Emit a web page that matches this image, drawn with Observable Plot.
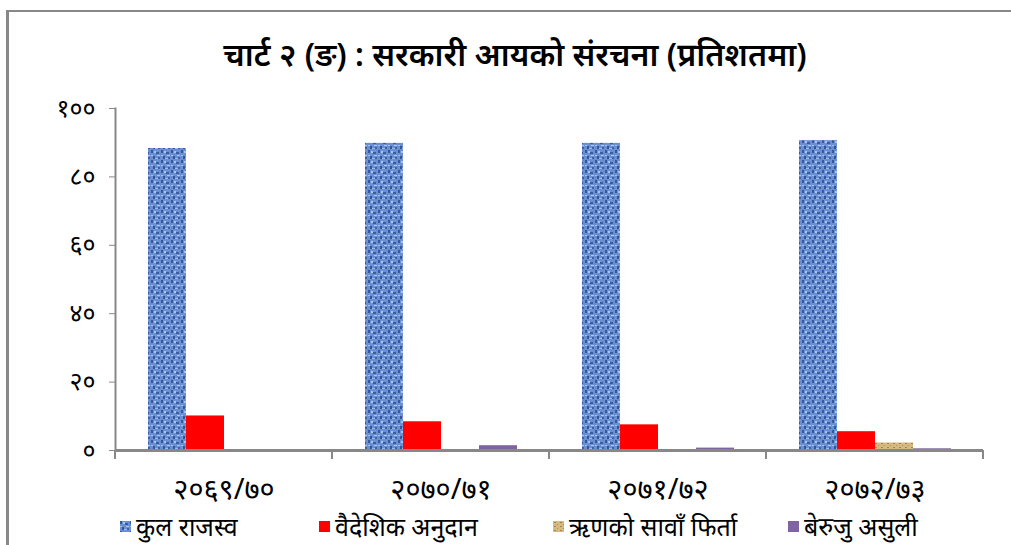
<!DOCTYPE html>
<html>
<head>
<meta charset="utf-8">
<script src="https://cdn.jsdelivr.net/npm/d3@7"></script>
<script src="https://cdn.jsdelivr.net/npm/@observablehq/plot@0.6"></script>
<style>
  html, body { margin: 0; padding: 0; background: #fff; }
  body { width: 1011px; height: 545px; position: relative; overflow: hidden; font-family: "Noto Sans", "Lato", sans-serif; }
  #frame { position: absolute; left: 6px; top: 10px; width: 1010px; height: 540px; border-left: 3px solid #888; border-top: 2px solid #888; }
  #title { position: absolute; left: 0; width: 1030px; top: 32px; text-align: center; font-size: 32px; font-weight: 600; color: #000; }
  #chart { position: absolute; left: 0; top: 90px; }
  #legend { position: absolute; top: 509px; left: 0; width: 1011px; height: 36px; }
  .item { position: absolute; display: flex; align-items: center; font-size: 25px; color: #000; white-space: nowrap; }
  .sw { width: 11px; height: 11px; margin-right: 5px; }
</style>
</head>
<body>
<svg width="0" height="0" style="position:absolute">
  <defs>
    <pattern id="denim" patternUnits="userSpaceOnUse" width="10" height="10">
      <rect width="10" height="10" fill="#6b8fd3"/>
      <rect x="0" y="0" width="2" height="3" fill="#36589c"/>
      <rect x="5" y="2" width="3" height="2" fill="#3a5da2"/>
      <rect x="2" y="6" width="2" height="3" fill="#34559a"/>
      <rect x="7" y="7" width="2" height="2" fill="#3d60a6"/>
      <rect x="3" y="1" width="2" height="2" fill="#a8c4f0"/>
      <rect x="0" y="5" width="2" height="1" fill="#a3bfee"/>
      <rect x="6" y="5" width="3" height="1" fill="#aac6f2"/>
      <rect x="4" y="8" width="3" height="1" fill="#9fbbea"/>
    </pattern>
    <pattern id="tan" patternUnits="userSpaceOnUse" width="6" height="4">
      <rect width="6" height="4" fill="#d6b980"/>
      <rect x="1" y="1" width="2" height="1" fill="#a5844a"/>
      <rect x="4" y="3" width="1" height="1" fill="#b0915a"/>
    </pattern>
  </defs>
</svg>
<div id="frame"></div>
<div id="title">चार्ट २ (ङ) : सरकारी आयको संरचना (प्रतिशतमा)</div>
<div id="chart"></div>
<div id="legend"></div>
<script>
// ---- data ----
const years = ["२०६९/७०", "२०७०/७१", "२०७१/७२", "२०७२/७३"];
const series = ["कुल राजस्व", "वैदेशिक अनुदान", "ऋणको सावाँ फिर्ता", "बेरुजु असुली"];
const totalRevenue = [88.3, 89.8, 89.8, 90.6];
const foreignGrants = [10.1, 8.4, 7.5, 5.5];
const loanRecovery = [0, 0, 0, 2.2];
const arrearsRecovery = [0, 1.4, 0.7, 0.5];
const yTicks = [0, 20, 40, 60, 80, 100];
const yTickLabels = ["०", "२०", "४०", "६०", "८०", "१००"];
const seriesColors = ["url(#denim)", "#ff0000", "url(#tan)", "#8064a2"];

const valuesBySeries = [totalRevenue, foreignGrants, loanRecovery, arrearsRecovery];
const data = [];
years.forEach((yr, i) => {
  series.forEach((s, j) => data.push({year: yr, series: s, value: valuesBySeries[j][i]}));
});

const chart = Plot.plot({
  width: 1011,
  height: 428,
  marginTop: 18,
  marginLeft: 114,
  marginRight: 27,
  marginBottom: 68,
  style: {fontFamily: "'Noto Sans', sans-serif", background: "transparent", overflow: "visible"},
  fx: {domain: years, padding: 0, label: null},
  x: {domain: series, paddingInner: 0, paddingOuter: 0.79, axis: null},
  y: {domain: [0, 100], label: null, axis: null},
  color: {domain: series, range: seriesColors},
  marks: [
    Plot.axisY({ticks: yTicks, tickFormat: d => yTickLabels[yTicks.indexOf(d)], tickSize: 6, tickPadding: 14,
      stroke: "#888", fill: "#000", fontSize: 25, label: null, facetAnchor: "left"}),
    Plot.frame({anchor: "left", facetAnchor: "left", stroke: "#888", strokeWidth: 2}),
    Plot.barY(data, {fx: "year", x: "series", y: "value", fill: "series"}),
    Plot.ruleY([0], {stroke: "#888", strokeWidth: 3}),
    Plot.axisFx({anchor: "bottom", tickSize: 0, tickPadding: 28, fontSize: 29, label: null, fill: "#000"})
  ]
});
document.getElementById("chart").appendChild(chart);

// group boundary ticks on the x axis, placed through the plot's scales
const fx = chart.scale("fx");
const ys = chart.scale("y");
const y0 = ys.apply(0);
const bounds = years.map(d => fx.apply(d)).concat([fx.apply(years[years.length - 1]) + fx.step]);
d3.select(chart).append("g")
  .selectAll("line").data(bounds).join("line")
  .attr("x1", d => d).attr("x2", d => d)
  .attr("y1", y0).attr("y2", y0 + 9)
  .attr("stroke", "#888").attr("stroke-width", 2);

// legend
const legendLeft = [120, 319, 553, 788];
const legend = d3.select("#legend");
series.forEach((s, i) => {
  const item = legend.append("div").attr("class", "item").style("left", legendLeft[i] + "px").style("top", "0px");
  item.append("svg").attr("class", "sw").attr("width", 11).attr("height", 11)
    .append("rect").attr("width", 11).attr("height", 11).attr("fill", seriesColors[i]);
  item.append("span").text(s);
});
</script>
</body>
</html>
